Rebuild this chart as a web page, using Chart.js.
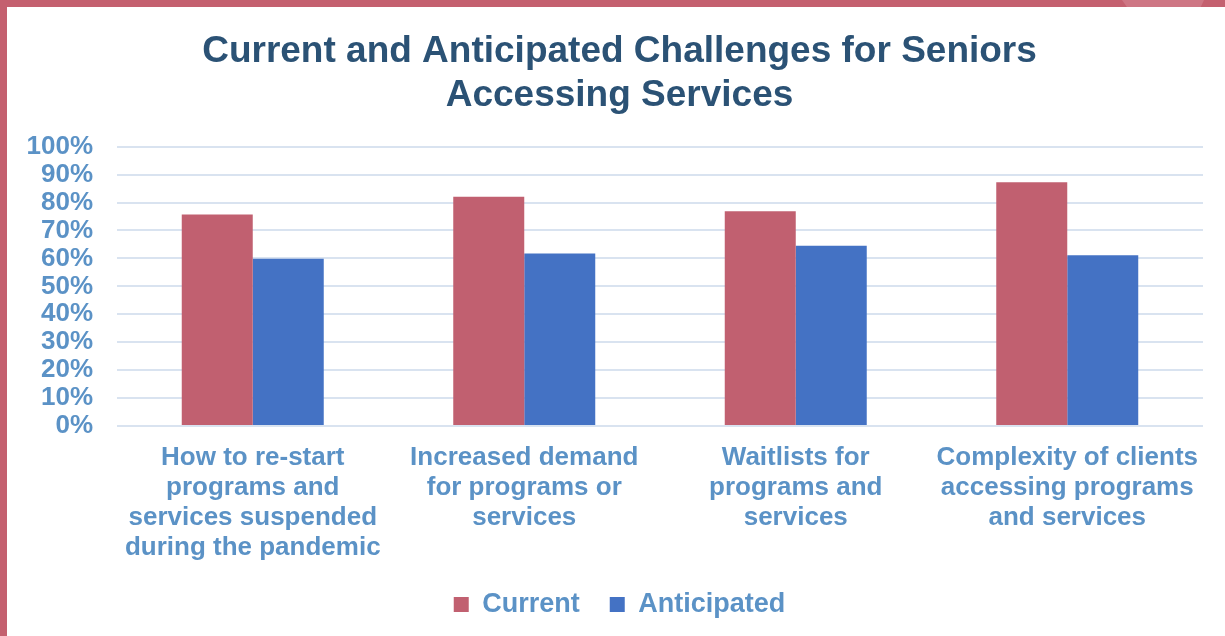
<!DOCTYPE html>
<html>
<head>
<meta charset="utf-8">
<script src="https://cdn.jsdelivr.net/npm/chart.js@4.4.1/dist/chart.umd.min.js"></script>
<style>
  html, body { margin: 0; padding: 0; background: #ffffff; overflow: hidden; }
  #wrap { position: relative; width: 1225px; height: 636px; }
  canvas { position: absolute; left: 0; top: 0; }
  .bt { position: absolute; left: 0; top: 0; width: 1225px; height: 7px; background: #C4606F; }
  .bl { position: absolute; left: 0; top: 0; width: 7px; height: 636px; background: #C4606F; }
  .deco { position: absolute; left: 1122px; top: 0; width: 82px; height: 7px; background: #CE7684;
          clip-path: polygon(0 0, 100% 0, 96% 100%, 6% 100%); }
</style>
</head>
<body>
<div id="wrap">
  <canvas id="c" width="1225" height="636"></canvas>
  <div class="bt"></div>
  <div class="deco"></div>
  <div class="bl"></div>
</div>
<script>
const titleLines = ['Current and Anticipated Challenges for Seniors', 'Accessing Services'];
const categories = [
  ['How to re-start', 'programs and', 'services suspended', 'during the pandemic'],
  ['Increased demand', 'for programs or', 'services'],
  ['Waitlists for', 'programs and', 'services'],
  ['Complexity of clients', 'accessing programs', 'and services']
];
const seriesNames = ['Current', 'Anticipated'];
const currentValues = [75.7, 82.1, 76.9, 87.3];
const anticipatedValues = [59.9, 61.8, 64.5, 61.1];
const yTickValues = [0, 10, 20, 30, 40, 50, 60, 70, 80, 90, 100];

const FONT = "'Liberation Sans', Arial, Helvetica, sans-serif";
const TICK_COLOR = '#5B92C6';
const TITLE_COLOR = '#2B5275';
const GRID_COLOR = '#D9E3F0';

new Chart(document.getElementById('c'), {
  type: 'bar',
  data: {
    labels: categories,
    datasets: [
      { label: seriesNames[0], data: currentValues, backgroundColor: '#C16070', borderWidth: 0 },
      { label: seriesNames[1], data: anticipatedValues, backgroundColor: '#4472C4', borderWidth: 0 }
    ]
  },
  options: {
    responsive: false,
    animation: false,
    devicePixelRatio: 1,
    layout: { padding: { left: 28, right: 14, top: 0, bottom: 8 } },
    datasets: { bar: { categoryPercentage: 0.523, barPercentage: 1.0 } },
    plugins: {
      tooltip: { enabled: false },
      title: {
        display: true,
        text: titleLines,
        color: TITLE_COLOR,
        font: { family: FONT, size: 37, weight: 'bold', lineHeight: 1.17 },
        padding: { top: 30.5, bottom: 29.6 }
      },
      legend: {
        display: true,
        position: 'bottom',
        labels: {
          color: TICK_COLOR,
          font: { family: FONT, size: 27, weight: 'bold' },
          boxWidth: 15,
          boxHeight: 15,
          padding: 30
        }
      }
    },
    scales: {
      x: {
        grid: { display: false, drawTicks: false },
        border: { display: false },
        ticks: {
          color: TICK_COLOR,
          font: { family: FONT, size: 26, weight: 'bold', lineHeight: 1.15 },
          padding: 17,
          maxRotation: 0,
          autoSkip: false
        },
        afterFit: (s) => { s.height = 135; }
      },
      y: {
        min: 0,
        max: 100,
        afterBuildTicks: (s) => { s.ticks = yTickValues.map(v => ({ value: v })); },
        grid: { color: GRID_COLOR, lineWidth: 2, drawTicks: false },
        border: { display: false },
        ticks: {
          color: TICK_COLOR,
          font: { family: FONT, size: 26, weight: 'bold' },
          padding: 24,
          autoSkip: false,
          callback: (v) => v + '%'
        },
        afterFit: (s) => { s.width = 89; }
      },
      yr: {
        type: 'linear',
        position: 'right',
        display: true,
        grid: { display: false, drawTicks: false },
        border: { display: false },
        ticks: { display: false },
        afterFit: (s) => { s.width = 8; }
      }
    }
  }
});
</script>
</body>
</html>
